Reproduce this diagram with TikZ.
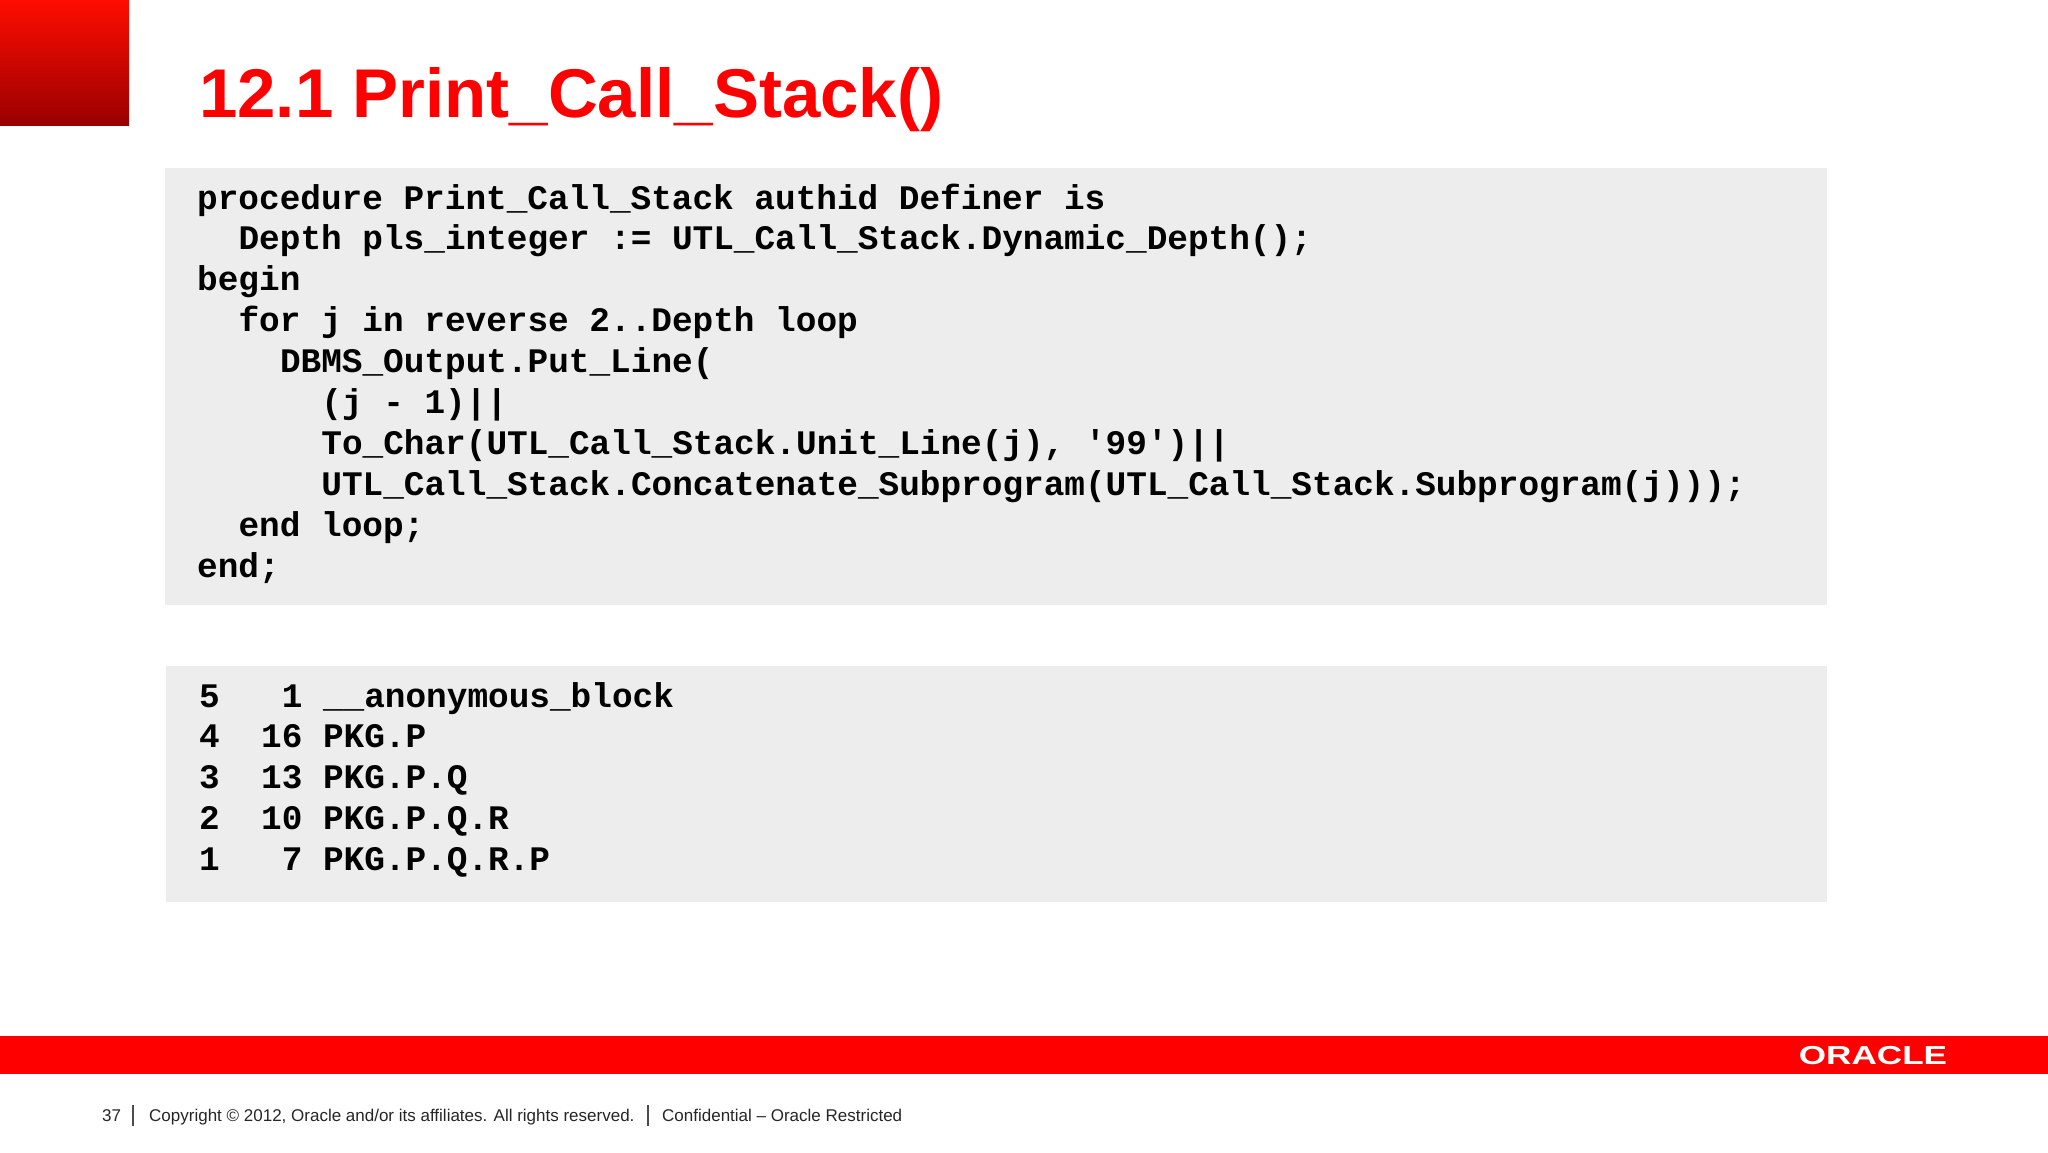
\documentclass[tikz,border=0pt]{standalone}
\usepackage{fontspec}
\setmainfont{Liberation Sans}
\newfontfamily\codefont{Liberation Mono}[BoldFont={Liberation Mono Bold}]
\begin{document}
\begin{tikzpicture}[x=1pt,y=-1pt,
  code/.style={anchor=base west,inner sep=0pt,font=\codefont\bfseries\fontsize{34.4}{40}\selectfont},
  foot/.style={anchor=base west,inner sep=0pt,font=\fontsize{17}{20}\selectfont,text=black!85}]
\useasboundingbox[fill=white] (0,0) rectangle (2048,1152);
\shade[top color=red!90!orange,bottom color=red!60!black] (0,0) rectangle (129,125);
\node[anchor=base west,inner sep=0pt,text=red,font=\bfseries\fontsize{69}{76}\selectfont] (title) at (199,117) {12.1 Print\_Call\_Stack()};
\fill[black!7] (165,168) rectangle (1827,605);
\fill[black!7] (166,666) rectangle (1827,902);
\def\cw{20.7}
\def\lh{40.9}
\foreach \i/\ind/\t in {0/0/{procedure Print\_Call\_Stack authid Definer is},
  1/2/{Depth pls\_integer := UTL\_Call\_Stack.Dynamic\_Depth();},
  2/0/{begin},
  3/2/{for j in reverse 2..Depth loop},
  4/4/{DBMS\_Output.Put\_Line(},
  5/6/{(j - 1)||},
  6/6/{To\_Char(UTL\_Call\_Stack.Unit\_Line(j), '99')||},
  7/6/{UTL\_Call\_Stack.Concatenate\_Subprogram(UTL\_Call\_Stack.Subprogram(j)));},
  8/2/{end loop;},
  9/0/{end;}}
  \node[code] (c\i) at (197+\ind*\cw,209+\i*\lh) {\t};
\foreach \i/\t in {0/{5~~~1~\_\_anonymous\_block},1/{4~~16~PKG.P},2/{3~~13~PKG.P.Q},3/{2~~10~PKG.P.Q.R},4/{1~~~7~PKG.P.Q.R.P}}
  \node[code] (o\i) at (199,707+\i*\lh) {\t};
\fill[red] (0,1036) rectangle (2048,1074);
\node[anchor=center,inner sep=0pt,text=white,xscale=1.35,font=\bfseries\fontsize{26}{28}\selectfont] (logo) at (1873,1056) {ORACLE};
\node[foot] (pg) at (102,1121) {37};
\node[foot] (cp) at (149,1121) {Copyright © 2012, Oracle and/or its affiliates. All rights reserved.};
\node[foot] (cf) at (662,1121) {Confidential – Oracle Restricted};
\draw[black!70,line width=1.2pt] (133,1105) -- (133,1126);
\draw[black!70,line width=1.2pt] (648,1105) -- (648,1126);
\end{tikzpicture}
\end{document}
